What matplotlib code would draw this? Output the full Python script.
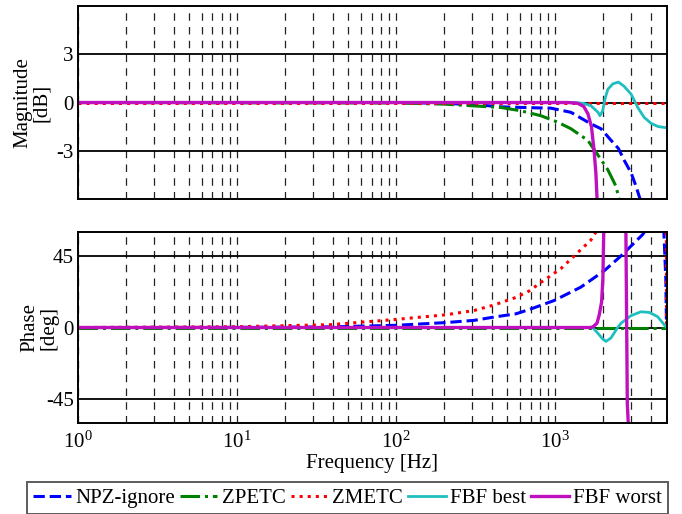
import matplotlib
matplotlib.use("Agg")
import matplotlib.pyplot as plt
import numpy as np

plt.rcParams['font.family'] = ['Liberation Serif', 'DejaVu Serif']
plt.rcParams['mathtext.fontset'] = 'custom'
plt.rcParams['mathtext.rm'] = 'Liberation Serif'
plt.rcParams['axes.unicode_minus'] = False
plt.rcParams['font.size'] = 15

nan = np.nan

# magnitude [dB]
mag_npz_f = [1, 100, 200, 331, 455, 755, 938, 1254, 1675, 1936, 2240, 2493, 2703, 3000, 3213, 3404, 3450]
mag_npz = [0, 0, -0.05, -0.15, -0.27, -0.33, -0.35, -0.61, -1.33, -1.63, -2.35, -2.86, -3.57, -4.39, -5.2, -5.98, -6.3]

mag_zpetc_f = [1, 100, 200, 455, 604, 811, 1034, 1254, 1600, 1855, 2138, 2404, 2514, 2540]
mag_zpetc = [0, -0.03, -0.1, -0.31, -0.51, -0.82, -1.22, -1.63, -2.35, -3.27, -4.18, -5.2, -5.98, -6.3]

mag_zmetc_f = [1, 5000]
mag_zmetc = [0, 0]

mag_best_f = [1, 1300, 1500, 1675, 1855, 1906, 1985, 2064, 2138, 2298, 2492, 2700, 3000, 3299, 3614, 3993, 4416, 5000]
mag_best = [0, 0, -0.05, -0.2, -0.61, -0.82, -0.51, 0.31, 0.82, 1.16, 1.27, 1.02, 0.51, -0.31, -0.92, -1.29, -1.49, -1.57]

mag_worst_f = [1, 1200, 1387, 1510, 1603, 1687, 1753, 1799, 1830, 1835]
mag_worst = [0, 0, -0.05, -0.25, -0.7, -1.5, -3.0, -4.4, -6.0, -6.3]

# phase [deg]
ph_npz_f = [1, 10, 38.8, 100, 205, 309, 413, 565, 686, 985, 1449, 2031, 2588, 3540, 3800, nan, 4800, 4950, 5000]
ph_npz = [0, 0.1, 0.4, 1.4, 3.1, 4.5, 6.6, 8.6, 11.3, 17, 25.4, 35.7, 45, 58.4, 63, nan, 63, 30, 0]

ph_zpetc_f = [1, 5000]
ph_zpetc = [0, 0]

ph_zmetc_f = [1, 10, 38.8, 100, 205, 309, 413, 565, 686, 811, 1084, 1381, 1675, 1800, 1900, nan, 4990, 5000]
ph_zmetc = [0, 0.5, 1.8, 5.1, 8, 10.7, 14.2, 18.9, 23, 28.3, 37, 47, 55, 60, 64, nan, 65, 0]

ph_best_f = [1, 1650, 1718, 1846, 1985, 2081, 2236, 2466, 2588, 2985, 3453, 3896, 4398, 5000]
ph_best = [0, 0, 0, -3.5, -7.2, -8.7, -6.6, 0, 2.7, 7.4, 9.9, 9.5, 6.8, 0]

ph_worst_f = [1, 1650, 1718, 1828, 1888, 1954, 1990, 2020, nan, 2775, 2835, 2890]
ph_worst = [0, 0, 0.3, 2.7, 7.9, 16.1, 30.6, 65, nan, 65, -48, -65]

labels = ['NPZ-ignore', 'ZPETC', 'ZMETC', 'FBF best', 'FBF worst']
colors = ['#0000ff', '#008000', '#ff0000', '#1fbfbf', '#bf10bf']
styles = ['--', '-.', ':', '-', '-']
widths = [2.2, 2.2, 2.2, 2.0, 2.4]

fig = plt.figure(figsize=(6.82, 5.14), dpi=100)
ax1 = fig.add_axes([0.1144, 0.6128, 0.8629, 0.3755])
ax2 = fig.add_axes([0.1144, 0.1770, 0.8629, 0.3716])

mags = [(mag_npz_f, mag_npz), (mag_zpetc_f, mag_zpetc), (mag_zmetc_f, mag_zmetc),
        (mag_best_f, mag_best), (mag_worst_f, mag_worst)]
phs = [(ph_npz_f, ph_npz), (ph_zpetc_f, ph_zpetc), (ph_zmetc_f, ph_zmetc),
       (ph_best_f, ph_best), (ph_worst_f, ph_worst)]

lines = []
for i in range(5):
    l, = ax1.plot(mags[i][0], mags[i][1], color=colors[i], ls=styles[i], lw=widths[i], label=labels[i])
    ax2.plot(phs[i][0], phs[i][1], color=colors[i], ls=styles[i], lw=widths[i])
    lines.append(l)

for ax in [ax1, ax2]:
    ax.set_xscale('log')
    ax.set_xlim(1, 5000)
    ax.grid(True, which='both', axis='x', color='#222222', ls=(0, (6, 5)), lw=0.9)
    ax.grid(True, which='major', axis='y', color='k', ls='-', lw=1.3)
    ax.tick_params(which='both', direction='in', length=0, pad=3)
    for s in ax.spines.values():
        s.set_linewidth(1.4)

ax1.set_ylim(-6, 6)
ax1.set_yticks([-3, 0, 3])
ax1.set_xticklabels([])
ax1.set_ylabel('Magnitude\n[dB]', linespacing=1.0)
ax1.yaxis.set_label_coords(-0.046, 0.5)

ax2.set_ylim(-60, 60)
ax2.set_yticks([-45, 0, 45])
ax2.set_xticks([1, 10, 100, 1000])
ax2.tick_params(axis='x', pad=6)
ax2.set_xlabel('Frequency [Hz]', labelpad=1)
ax2.set_ylabel('Phase\n[deg]', linespacing=1.0)
ax2.yaxis.set_label_coords(-0.034, 0.5)

leg = fig.legend(handles=lines, loc='upper left', bbox_to_anchor=(27 / 682, 1 - 482 / 514),
                 ncol=5, frameon=True, fancybox=False, edgecolor='#333333',
                 prop={'family': 'Liberation Serif', 'size': 15},
                 handlelength=1.8, handletextpad=0.2, columnspacing=0.25,
                 borderpad=0.3, borderaxespad=0)
leg.get_frame().set_linewidth(1.4)

fig.savefig('out.png', dpi=100)
